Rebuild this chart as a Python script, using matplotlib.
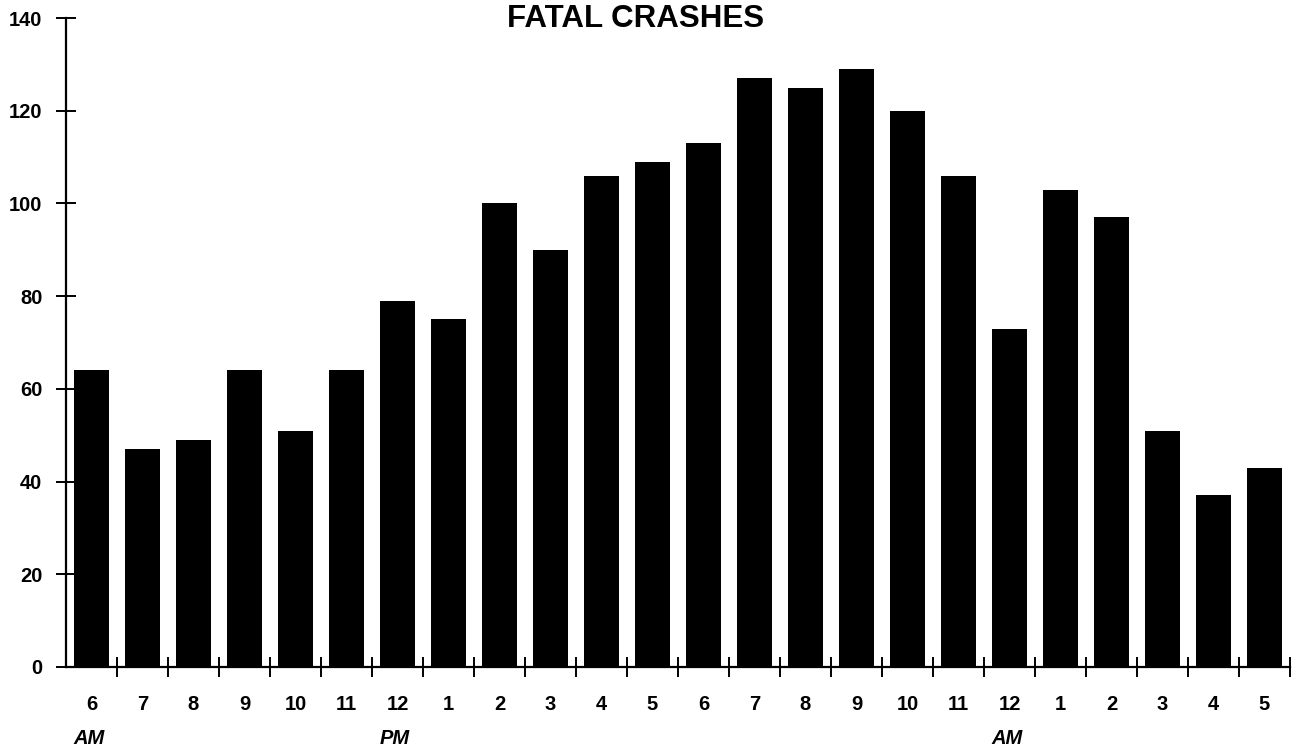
import matplotlib
matplotlib.use("Agg")
import matplotlib.pyplot as plt
import numpy as np

hours = ["6", "7", "8", "9", "10", "11", "12", "1", "2", "3", "4", "5",
         "6", "7", "8", "9", "10", "11", "12", "1", "2", "3", "4", "5"]
crashes = [64, 47, 49, 64, 51, 64, 79, 75, 100, 90, 106, 109,
           113, 127, 125, 129, 120, 106, 73, 103, 97, 51, 37, 43]
period_labels = {0: "AM", 6: "PM", 18: "AM"}
y_ticks = [0, 20, 40, 60, 80, 100, 120, 140]
title = "FATAL CRASHES"

plt.rcParams['font.family'] = ['Liberation Sans', 'DejaVu Sans']

fig = plt.figure(figsize=(12.98, 7.5), dpi=100)
ax = fig.add_axes([66/1298, 83/750, 1224/1298, 649/750])

x = np.arange(len(crashes))
ax.bar(x, crashes, width=0.69, color='black', zorder=2)

ax.set_xlim(-0.5, len(crashes) - 0.5)
ax.set_ylim(0, 140)

for s in ['top', 'right']:
    ax.spines[s].set_visible(False)
for s in ['left', 'bottom']:
    ax.spines[s].set_linewidth(1.6)
    ax.spines[s].set_zorder(3)

ax.set_yticks(y_ticks)
ax.set_yticklabels([str(v) for v in y_ticks], fontsize=14.5, fontweight='bold')
ax.tick_params(axis='y', direction='inout', length=14, width=1.4, pad=10)

ax.set_xticks(x)
ax.set_xticklabels(hours, fontsize=14.5, fontweight='bold')
ax.tick_params(axis='x', which='major', length=0, pad=20)
ax.set_xticks(np.arange(0.5, len(crashes), 1.0), minor=True)
ax.tick_params(axis='x', which='minor', direction='inout', length=15, width=1.4)

trans = ax.get_xaxis_transform()
for i, lab in period_labels.items():
    ax.text(i - 0.05, -0.11, lab, transform=trans, ha='center', va='center',
            fontsize=14.5, style='italic', fontweight='bold')

fig.text(636/1298, 1 - 19/750, title, ha='center', va='center',
         fontsize=22.5, fontweight='bold')

fig.savefig("out.png", dpi=100)
